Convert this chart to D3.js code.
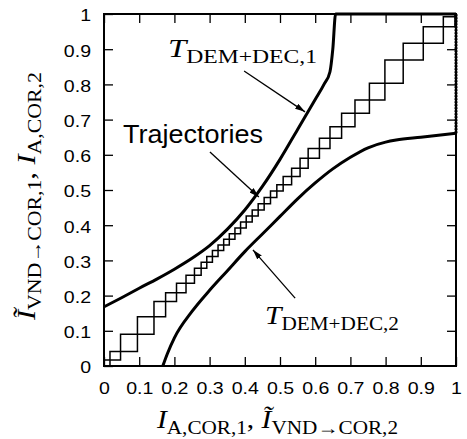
<!DOCTYPE html>
<html>
<head>
<meta charset="utf-8">
<script src="https://cdn.jsdelivr.net/npm/d3@7"></script>
<style>
  body { margin: 0; background: #fff; }
  svg { display: block; }
</style>
</head>
<body>
<svg></svg>
<script>
// transfer curves
var t1X = [0, 0.05, 0.1, 0.15, 0.2, 0.25, 0.3, 0.35, 0.4, 0.45, 0.5, 0.55, 0.6, 0.625, 0.642, 0.65, 0.658, 1]
var t1Y = [0.168, 0.194, 0.221, 0.247, 0.275, 0.306, 0.342, 0.388, 0.443, 0.51, 0.587, 0.672, 0.757, 0.8, 0.836, 0.9, 1, 1]

var t2X = [0.167, 0.18, 0.2, 0.25, 0.3, 0.35, 0.4, 0.45, 0.5, 0.55, 0.6, 0.65, 0.7, 0.75, 0.8, 0.83, 0.9, 1]
var t2Y = [0, 0.035, 0.08, 0.155, 0.215, 0.27, 0.325, 0.375, 0.425, 0.475, 0.52, 0.56, 0.593, 0.62, 0.636, 0.642, 0.65, 0.661]
var t2Top = 1

// crossing points of the two trajectories
var trajX = [0, 0.017, 0.047, 0.095, 0.142, 0.175, 0.206, 0.233, 0.257, 0.276, 0.292, 0.308, 0.324, 0.340, 0.356, 0.372, 0.388, 0.404, 0.421, 0.438, 0.455, 0.473, 0.491, 0.509, 0.533, 0.557, 0.580, 0.612, 0.642, 0.675, 0.713, 0.754, 0.798, 0.850, 0.907, 0.964, 0.997, 1]
var trajY = [0, 0.017, 0.041, 0.090, 0.140, 0.183, 0.208, 0.235, 0.258, 0.278, 0.295, 0.311, 0.328, 0.344, 0.360, 0.376, 0.392, 0.409, 0.426, 0.443, 0.461, 0.479, 0.497, 0.515, 0.538, 0.562, 0.590, 0.618, 0.647, 0.680, 0.718, 0.756, 0.803, 0.869, 0.917, 0.964, 0.992, 1]

var ticks = [0, 0.1, 0.2, 0.3, 0.4, 0.5, 0.6, 0.7, 0.8, 0.9, 1]
var tickLabels = ['0', '0.1', '0.2', '0.3', '0.4', '0.5', '0.6', '0.7', '0.8', '0.9', '1']

var W = 467, H = 439
var pLeft = 104, pRight = 456, pTop = 14, pBottom = 366

var svg = d3.select('svg').attr('width', W).attr('height', H)

var x = d3.scaleLinear().domain([0, 1]).range([pLeft, pRight])
var y = d3.scaleLinear().domain([0, 1]).range([pBottom, pTop])

svg.append('defs').append('marker')
    .attr('id', 'head')
    .attr('viewBox', '0 0 10 6')
    .attr('refX', 10).attr('refY', 3)
    .attr('markerWidth', 10).attr('markerHeight', 6)
    .attr('markerUnits', 'userSpaceOnUse')
    .attr('orient', 'auto')
    .append('path').attr('d', 'M0,0 L10,3 L0,6 Z').attr('fill', '#000')

function fmt(d) {
    return tickLabels[ticks.indexOf(d)]
}

function axes() {
    var sx = 1.15
    var gb = svg.append('g')
        .attr('transform', 'translate(0,' + pBottom + ')')
        .call(d3.axisBottom(x).tickValues(ticks).tickFormat(fmt).tickSize(-9).tickPadding(16))
    gb.selectAll('text').attr('transform', 'scale(' + sx + ',1)')

    var gl = svg.append('g')
        .attr('transform', 'translate(' + pLeft + ',0)')
        .call(d3.axisLeft(y).tickValues(ticks).tickFormat(fmt).tickSize(-9).tickPadding(13))
    gl.selectAll('text').attr('x', -13 / sx).attr('dy', '0.4em').attr('transform', 'scale(' + sx + ',1)')

    svg.append('g')
        .attr('transform', 'translate(0,' + pTop + ')')
        .call(d3.axisTop(x).tickValues(ticks).tickFormat('').tickSize(-9))
    svg.append('g')
        .attr('transform', 'translate(' + pRight + ',0)')
        .call(d3.axisRight(y).tickValues(ticks.slice(1, 10)).tickFormat('').tickSize(-9))

    svg.selectAll('.domain').remove()
    svg.selectAll('.tick line').attr('stroke', '#000').attr('stroke-width', 1.3)
    svg.selectAll('.tick text')
        .attr('font-family', '"Liberation Sans", Arial, sans-serif')
        .attr('font-size', 17)
        .attr('fill', '#000')

    svg.append('rect')
        .attr('x', pLeft).attr('y', pTop)
        .attr('width', pRight - pLeft).attr('height', pBottom - pTop)
        .attr('fill', 'none').attr('stroke', '#000').attr('stroke-width', 2)
}

function curves() {
    var line = d3.line().x(d => x(d[0])).y(d => y(d[1]))
    var smooth = d3.line().x(d => x(d[0])).y(d => y(d[1])).curve(d3.curveMonotoneX)

    // two staircases: one climbs on odd x / even y crossings, the other on even x / odd y
    var n = trajX.length
    var a = [], b = []
    for (var j = 0; 2 * j + 1 < n; j++) {
        var i1 = 2 * j + 1, i2 = Math.min(2 * j + 2, n - 1)
        a.push([trajX[i1], trajY[2 * j]])
        a.push([trajX[i1], trajY[i2]])
    }
    for (var j = 0; 2 * j + 1 < n; j++) {
        var i0 = 2 * j, i2 = Math.min(2 * j + 2, n - 1)
        b.push([trajX[i0], trajY[2 * j + 1]])
        b.push([trajX[i2], trajY[2 * j + 1]])
    }
    b.push([1, 1])
    a.push([1, 1])

    ;[a, b].forEach(function (p) {
        svg.append('path').attr('d', line(p))
            .attr('fill', 'none').attr('stroke', '#000').attr('stroke-width', 1.5)
    })

    svg.append('path').attr('d', smooth(t1X.map((v, i) => [v, t1Y[i]])))
        .attr('fill', 'none').attr('stroke', '#000').attr('stroke-width', 3)
    svg.append('path').attr('d', smooth(t2X.map((v, i) => [v, t2Y[i]])))
        .attr('fill', 'none').attr('stroke', '#000').attr('stroke-width', 3)
    var last = t2X.length - 1
    svg.append('path').attr('d', line([[t2X[last], t2Y[last]], [t2X[last], t2Top]]))
        .attr('fill', 'none').attr('stroke', '#000').attr('stroke-width', 3)
        .attr('stroke-dasharray', '2,1')
}

function arrow(x0, y0, x1, y1) {
    svg.append('line')
        .attr('x1', x(x0)).attr('y1', y(y0))
        .attr('x2', x(x1)).attr('y2', y(y1))
        .attr('stroke', '#000').attr('stroke-width', 1.3)
        .attr('marker-end', 'url(#head)')
}

// math label: list of [text, italic, subscript]
function mathText(parts, px, py, len, rotate) {
    var t = svg.append('text')
        .attr('font-family', '"Liberation Serif", "Times New Roman", serif')
        .attr('fill', '#000')
        .attr('textLength', len)
        .attr('lengthAdjust', 'spacingAndGlyphs')
    if (rotate) {
        t.attr('transform', 'translate(' + px + ',' + py + ') rotate(-90)')
    } else {
        t.attr('x', px).attr('y', py)
    }
    var low = false
    parts.forEach(function (p) {
        var s = t.append('tspan').text(p[0])
            .attr('font-size', p[2] ? 18 : 25)
            .attr('font-style', p[1] ? 'italic' : 'normal')
        if (p[2] && !low) { s.attr('dy', 6); low = true }
        else if (!p[2] && low) { s.attr('dy', -6); low = false }
    })
}

function labels() {
    mathText([['T', true, false], ['DEM+DEC,1', false, true]], 168, 57, 149)
    mathText([['T', true, false], ['DEM+DEC,2', false, true]], 265, 324, 134)
    mathText([['I', true, false], ['A,COR,1', false, true], [', ', false, false],
              ['\u0128', true, false], ['VND\u2192COR,2', false, true]], 157, 428, 241)
    mathText([['\u0128', true, false], ['VND\u2192COR,1', false, true], [', ', false, false],
              ['I', true, false], ['A,COR,2', false, true]], 35, 320, 248, true)

    svg.append('text')
        .attr('x', 123).attr('y', 143)
        .attr('font-family', '"Liberation Sans", Arial, sans-serif')
        .attr('font-size', 26)
        .attr('textLength', 140)
        .attr('lengthAdjust', 'spacingAndGlyphs')
        .text('Trajectories')

    arrow(0.398, 0.838, 0.571, 0.722)
    arrow(0.301, 0.608, 0.440, 0.480)
    arrow(0.543, 0.193, 0.423, 0.330)
}

curves()
axes()
labels()
</script>
</body>
</html>
